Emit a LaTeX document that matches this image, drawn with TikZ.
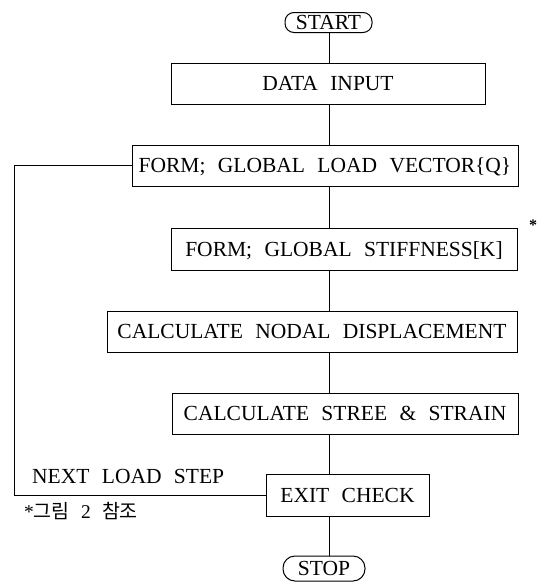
\documentclass[tikz,border=0pt]{standalone}
\usepackage{fontspec}
\setmainfont{Liberation Serif}[WordSpace=2.3]
\newfontfamily\kr{Noto Sans CJK KR}
\begin{document}
\begin{tikzpicture}[x=1pt,y=-1pt,
  every node/.style={font=\fontsize{21.5}{26}\selectfont},
  ln/.style={line width=1pt},
  box/.style={draw, line width=1pt, inner sep=0pt, text height=14.2pt, text depth=0pt},
  term/.style={draw, line width=1pt, inner sep=0pt, text height=14.2pt, text depth=0pt}]
\useasboundingbox (0,0) rectangle (552,582);
\coordinate (sp) at (329,0);
\coordinate (lx) at (14,0);
\node[term, rounded corners=9pt, minimum width=87pt, minimum height=20pt] (start) at (328.5,22.5) {START};
\node[box, minimum width=314pt, minimum height=41pt] (data) at (328,83.5) {DATA INPUT};
\node[box, minimum width=386pt, minimum height=41pt] (load) at (325,165.5) {FORM; GLOBAL LOAD VECTOR\{Q\}};
\node[box, minimum width=346pt, minimum height=42pt] (stiff) at (344,249) {FORM; GLOBAL STIFFNESS[K]};
\node[box, minimum width=410pt, minimum height=41pt] (nodal) at (312,331.5) {CALCULATE NODAL DISPLACEMENT};
\node[box, minimum width=346pt, minimum height=41pt] (stree) at (345,413.5) {CALCULATE STREE \& STRAIN};
\node[box, minimum width=163pt, minimum height=42pt] (exit) at (347.5,495) {EXIT CHECK};
\node[term, rounded corners=12pt, minimum width=82pt, minimum height=25pt] (stop) at (324,568.5) {STOP};
\draw[ln] (start.south -| sp) -- (data.north -| sp);
\draw[ln] (data.south -| sp) -- (load.north -| sp);
\draw[ln] (load.south -| sp) -- (stiff.north -| sp);
\draw[ln] (stiff.south -| sp) -- (nodal.north -| sp);
\draw[ln] (nodal.south -| sp) -- (stree.north -| sp);
\draw[ln] (stree.south -| sp) -- (exit.north -| sp);
\draw[ln] (exit.south -| sp) -- (stop.north -| sp);
\draw[ln] (exit.west) -- (exit.west -| lx) -- (load.west -| lx) -- (load.west);
\node[anchor=base west, inner sep=0pt] (next) at (32,483) {NEXT LOAD STEP};
\node[anchor=base west, inner sep=0pt, font=\fontsize{19.5}{22}\selectfont] (note) at (24,518) {*{\kr 그림}\ 2\ {\kr 참조}};
\node[anchor=base, inner sep=0pt, font=\bfseries\fontsize{16}{18}\selectfont] (ast) at (533,230) {*};
\end{tikzpicture}
\end{document}
